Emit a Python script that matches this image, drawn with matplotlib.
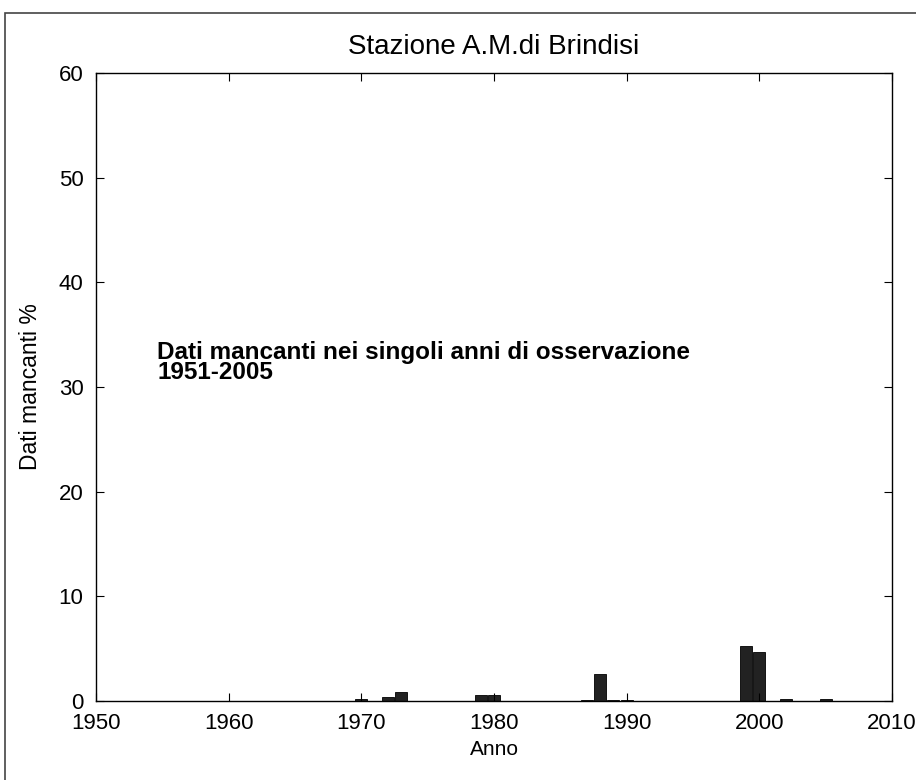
import numpy as np
import matplotlib.pyplot as plt
from matplotlib.patches import Rectangle

# missing data percentages per year (1951-2005); years not listed are 0
years = np.arange(1951, 2006)
gap_years = [1970, 1972, 1973, 1979, 1980, 1987, 1988, 1989, 1990, 1999, 2000, 2002, 2005]
gap_pct = [0.15, 0.4, 0.9, 0.6, 0.6, 0.1, 2.6, 0.1, 0.1, 5.3, 4.7, 0.2, 0.2]

missing = np.zeros(len(years))
for y, v in zip(gap_years, gap_pct):
    missing[years == y] = v

xticks = [1950, 1960, 1970, 1980, 1990, 2000, 2010]
yticks = [0, 10, 20, 30, 40, 50, 60]

plt.rcParams['font.family'] = ['Liberation Sans', 'DejaVu Sans']

fig = plt.figure(figsize=(9.16, 7.8), dpi=100)
ax = fig.add_axes([0.1048, 0.1013, 0.869, 0.8051])

ax.bar(years, missing, width=0.9, color='#222222', edgecolor='black', lw=0.6)

ax.set_xlim(1950, 2010)
ax.set_ylim(0, 60)
ax.set_xticks(xticks)
ax.set_yticks(yticks)
ax.tick_params(direction='in', top=True, right=True, length=6, labelsize=16)
ax.tick_params(axis='x', pad=9)
ax.tick_params(axis='y', pad=9)
for s in ax.spines.values():
    s.set_linewidth(1.0)

ax.set_title('Stazione A.M.di Brindisi', fontsize=20, pad=14)
ax.set_xlabel('Anno', fontsize=15, labelpad=4)
ax.set_ylabel('Dati mancanti %', fontsize=16.5, labelpad=12)

ax.text(1954.6, 30.3, 'Dati mancanti nei singoli anni di osservazione\n1951-2005',
        fontsize=17.5, fontweight='bold', va='bottom', ha='left', linespacing=0.8)

# outer frame around the figure
fig.patches.append(Rectangle((0.006, -0.01), 1.2, 0.993, transform=fig.transFigure,
                             fill=False, edgecolor='#444444', lw=1.2))

plt.savefig('out.png', dpi=100)
